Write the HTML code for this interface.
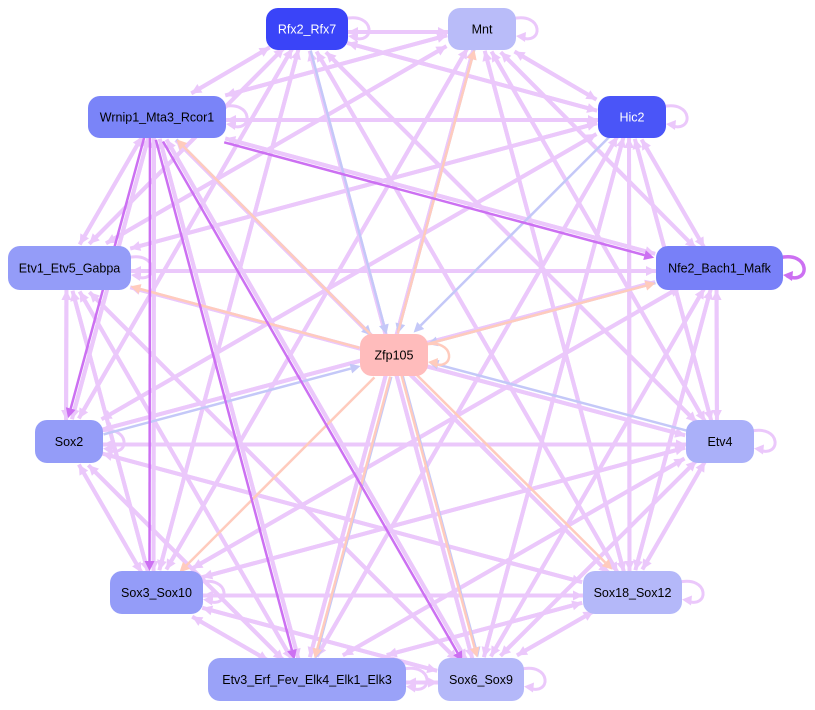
<!DOCTYPE html>
<html><head><meta charset="utf-8">
<style>
html,body{margin:0;padding:0;background:#fff;width:815px;height:710px;overflow:hidden}
text{font-family:"Liberation Sans",sans-serif;font-size:12.5px}
</style></head>
<body>
<svg id="s" width="815" height="710" xmlns="http://www.w3.org/2000/svg">
<g id="edges"></g>
<g id="nodes"></g>
</svg>
<script>
const N={
 R:[266,8,82,42,"#3a44f8","Rfx2_Rfx7","#fff"],
 M:[448,8,68,42,"#b9bcf9","Mnt","#000"],
 W:[88,96,138,42,"#7a84f8","Wrnip1_Mta3_Rcor1","#000"],
 H:[598,96,68,42,"#4a55f8","Hic2","#fff"],
 E1:[8,246,123,44,"#949cf8","Etv1_Etv5_Gabpa","#000"],
 NF:[656,246,127,44,"#7880f8","Nfe2_Bach1_Mafk","#000"],
 Z:[360,334,68,42,"#ffbcbc","Zfp105","#000"],
 S2:[35,420,68,43,"#949cf8","Sox2","#000"],
 E4:[686,420,68,43,"#aab0f9","Etv4","#000"],
 S3:[110,571,93,43,"#949cf8","Sox3_Sox10","#000"],
 S18:[583,571,99,43,"#b4b8f9","Sox18_Sox12","#000"],
 E3:[208,658,198,43,"#9aa2f8","Etv3_Erf_Fev_Elk4_Elk1_Elk3","#000"],
 S6:[438,658,86,43,"#b4b8f9","Sox6_Sox9","#000"]
};
const ns="http://www.w3.org/2000/svg";
const E=document.getElementById("edges"),G=document.getElementById("nodes");
function c(k){const n=N[k];return [n[0]+n[2]/2,n[1]+n[3]/2];}
function clip(k,dx,dy){const n=N[k];const hw=n[2]/2,hh=n[3]/2;let t=Math.min(Math.abs(dx)>1e-6?hw/Math.abs(dx):1e9,Math.abs(dy)>1e-6?hh/Math.abs(dy):1e9);return t;}
function el(t,a,p){const e=document.createElementNS(ns,t);for(const q in a)e.setAttribute(q,a[q]);(p||E).appendChild(e);return e;}
function edge(a,b,col,w,off){
 let [x1,y1]=c(a),[x2,y2]=c(b);off=off||0;
 let dx=x2-x1,dy=y2-y1,L=Math.hypot(dx,dy);let ux=dx/L,uy=dy/L;
 let px=-uy*off,py=ux*off;x1+=px;y1+=py;x2+=px;y2+=py;
 let t1=clip(a,ux,uy),t2=clip(b,ux,uy);
 let sx=x1+ux*t1,sy=y1+uy*t1,ex=x2-ux*t2,ey=y2-uy*t2;
 let ah=10,aw=5;let bx=ex-ux*ah,by=ey-uy*ah;
 el("line",{x1:sx,y1:sy,x2:bx,y2:by,stroke:col,"stroke-width":w});
 el("polygon",{points:`${ex},${ey} ${bx-uy*aw},${by+ux*aw} ${bx+uy*aw},${by-ux*aw}`,fill:col});
}
function loop(k,col,w){const n=N[k];const x=n[0]+n[2],y=n[1]+n[3]/2;
 el("path",{d:`M${x-4},${y-10} C${x+28},${y-18} ${x+28},${y+18} ${x+4},${y+8}`,fill:"none",stroke:col,"stroke-width":w});
 el("polygon",{points:`${x},${y+7} ${x+10},${y+3} ${x+9},${y+13}`,fill:col});}
const L="#ebc8fb";
const B="#c4c8f8",S="#ffcbbd",D="#cc70f2";
const keys=Object.keys(N).filter(k=>k!="Z");
for(let i=0;i<keys.length;i++)for(let j=0;j<keys.length;j++){if(i==j)continue;
 if((i*7+j*3)%5==0)continue;
 edge(keys[i],keys[j],L,4,(i<j?3:-3));}
["R","M","H","E1","S2","S3","W","E3","S6","S18","E4"].forEach(k=>loop(k,L,3));
["R","M","H","NF","S2","E4","W"].forEach(k=>edge(k,"Z",B,2.5,2));
["E3","S6"].forEach(k=>edge("Z",k,B,2.5,-3));
["M","W","E1","NF","S3","E3","S6","S18"].forEach(k=>edge("Z",k,S,2.5,-2));
[["W","NF"],["W","S2"],["W","S3"],["W","E3"],["W","S6"]].forEach(p=>edge(p[0],p[1],D,2.5,7));
loop("Z",S,2.5);
loop("NF",D,3.5);
for(const k in N){const n=N[k];
 el("rect",{x:n[0],y:n[1],width:n[2],height:n[3],rx:12,fill:n[4]},G);
 const t=el("text",{x:n[0]+n[2]/2,y:n[1]+n[3]/2+4.5,"text-anchor":"middle",fill:n[6]},G);t.textContent=n[5];}
</script>
</body></html>
